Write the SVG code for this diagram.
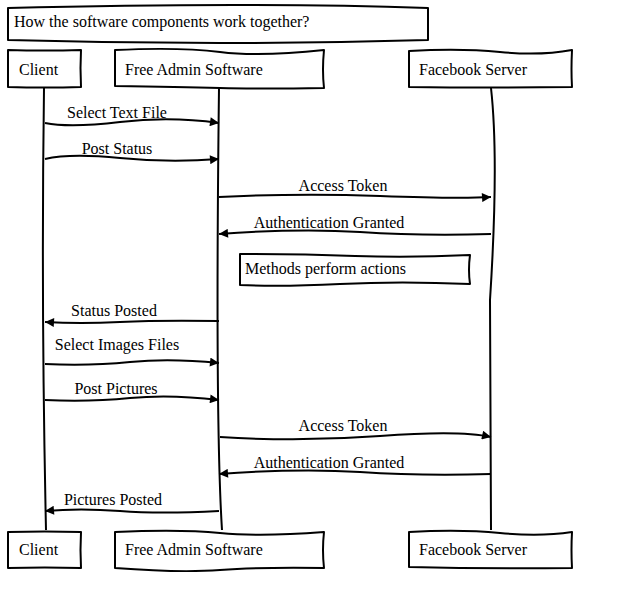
<svg xmlns="http://www.w3.org/2000/svg" width="623" height="601" viewBox="0 0 623 601">
<style>
.box{fill:#fff;stroke:#000;stroke-width:2;stroke-linejoin:round}
.life{fill:none;stroke:#000;stroke-width:2}
.msg{fill:none;stroke:#000;stroke-width:2;marker-end:url(#ah)}
text{font-family:"Liberation Serif","Times New Roman",serif;font-size:16px;fill:#000}
.c{text-anchor:middle}
</style>
<defs>
<marker id="ah" viewBox="0 0 10 10" refX="10" refY="5" markerWidth="11" markerHeight="9" markerUnits="userSpaceOnUse" orient="auto">
<path d="M0,0 L10,5 L0,10 Z" fill="#000"/>
</marker>
</defs>
<rect width="623" height="601" fill="#fff"/>
<g id="title">
<path class="box" d="M8,8 Q250,2 428,8 L428,40 Q220,46 8,40 Z"/>
<text x="14" y="27">How the software components work together?</text>
</g>
<g id="lifelines">
<path class="life" d="M44,88 Q41,300 46,530"/>
<path class="life" d="M219,88 Q215,420 222,530"/>
<path class="life" d="M491,88 Q499,160 490,300 L491,530"/>
</g>
<g id="connectors">
<path class="msg" d="M45,123 Q70,128 120,122 T219,123"/>
<text class="c" x="117" y="118">Select Text File</text>
<path class="msg" d="M45,159 Q70,153 120,158 T219,159"/>
<text class="c" x="117" y="154">Post Status</text>
<path class="msg" d="M219,197 Q300,193 380,196 T491,197"/>
<text class="c" x="343" y="191">Access Token</text>
<path class="msg" d="M491,234 Q420,236 360,232 T219,234"/>
<text class="c" x="329" y="228">Authentication Granted</text>
<path class="msg" d="M219,321 Q160,320 120,322 T45,322"/>
<text class="c" x="114" y="316">Status Posted</text>
<path class="msg" d="M45,364 Q90,366 130,362 T219,363"/>
<text class="c" x="117" y="350">Select Images Files</text>
<path class="msg" d="M45,400 Q90,402 130,398 T219,400"/>
<text class="c" x="116" y="394">Post Pictures</text>
<path class="msg" d="M220,437 Q300,442 380,436 T491,437"/>
<text class="c" x="343" y="431">Access Token</text>
<path class="msg" d="M491,474 Q420,476 360,472 T219,474"/>
<text class="c" x="329" y="468">Authentication Granted</text>
<path class="msg" d="M219,511 Q160,514 120,511 T45,511"/>
<text class="c" x="113" y="505">Pictures Posted</text>
</g>
<g id="note">
<path class="box" d="M240,254 Q300,254 355,256 T470,255 Q468,270 470,284 Q400,281 340,284 T240,285 Z"/>
<text x="245" y="274">Methods perform actions</text>
</g>
<g id="p-client-top">
<path class="box" d="M8,50 Q45,51 81,50 Q80,68 81,87 Q45,88 8,87 Z"/>
<text x="19" y="75">Client</text>
</g>
<g id="p-admin-top">
<path class="box" d="M115,50 Q180,47 220,52 T324,50 Q322,70 324,88 Q260,89 220,88 T115,86 Z"/>
<text x="125" y="75">Free Admin Software</text>
</g>
<g id="p-fb-top">
<path class="box" d="M409,51 Q460,48 500,52 T572,50 Q571,70 572,87 Q490,88 409,87 Z"/>
<text x="419" y="75">Facebook Server</text>
</g>
<g id="p-client-bottom">
<path class="box" d="M8,532 Q45,531 81,532 Q80,550 81,568 Q45,567 8,568 Z"/>
<text x="19" y="555">Client</text>
</g>
<g id="p-admin-bottom">
<path class="box" d="M115,532 Q180,529 220,533 T324,532 Q322,550 324,568 Q260,567 220,570 T115,568 Z"/>
<text x="125" y="555">Free Admin Software</text>
</g>
<g id="p-fb-bottom">
<path class="box" d="M409,532 Q460,529 500,533 T572,532 Q571,550 572,568 Q490,569 409,567 Z"/>
<text x="419" y="555">Facebook Server</text>
</g>
</svg>
